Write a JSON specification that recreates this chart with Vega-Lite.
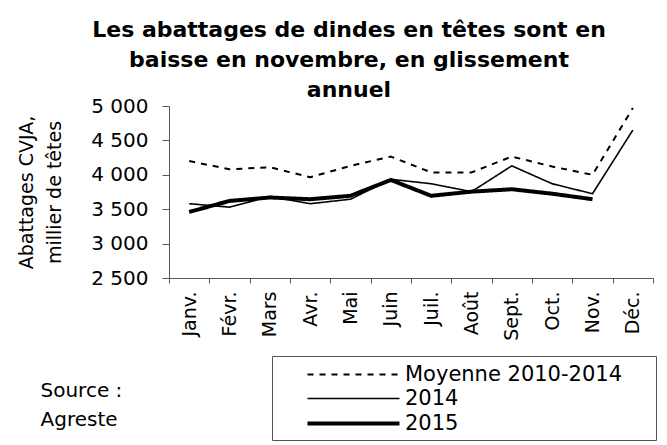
{
  "$schema": "https://vega.github.io/schema/vega-lite/v6.json",
  "autosize": "none",
  "width": 484,
  "height": 172,
  "padding": {"left": 169, "top": 106, "right": 14, "bottom": 167},
  "background": "white",
  "title": {
    "text": ["Les abattages de dindes en têtes sont en", "baisse en novembre, en glissement", "annuel"],
    "anchor": "middle",
    "frame": "group",
    "dx": -62,
    "offset": -6,
    "font": "DejaVu Sans",
    "fontSize": 22,
    "fontWeight": "bold",
    "lineHeight": 30,
    "color": "black"
  },
  "data": {
    "values": [
      {"mois": "Janv.", "serie": "Moyenne 2010-2014", "valeur": 4200},
      {"mois": "Févr.", "serie": "Moyenne 2010-2014", "valeur": 4080},
      {"mois": "Mars", "serie": "Moyenne 2010-2014", "valeur": 4110},
      {"mois": "Avr.", "serie": "Moyenne 2010-2014", "valeur": 3965},
      {"mois": "Mai", "serie": "Moyenne 2010-2014", "valeur": 4130},
      {"mois": "Juin", "serie": "Moyenne 2010-2014", "valeur": 4265},
      {"mois": "Juil.", "serie": "Moyenne 2010-2014", "valeur": 4035},
      {"mois": "Août", "serie": "Moyenne 2010-2014", "valeur": 4035},
      {"mois": "Sept.", "serie": "Moyenne 2010-2014", "valeur": 4265},
      {"mois": "Oct.", "serie": "Moyenne 2010-2014", "valeur": 4120},
      {"mois": "Nov.", "serie": "Moyenne 2010-2014", "valeur": 4000},
      {"mois": "Déc.", "serie": "Moyenne 2010-2014", "valeur": 4970},
      {"mois": "Janv.", "serie": "2014", "valeur": 3580},
      {"mois": "Févr.", "serie": "2014", "valeur": 3530},
      {"mois": "Mars", "serie": "2014", "valeur": 3685},
      {"mois": "Avr.", "serie": "2014", "valeur": 3580},
      {"mois": "Mai", "serie": "2014", "valeur": 3645},
      {"mois": "Juin", "serie": "2014", "valeur": 3935},
      {"mois": "Juil.", "serie": "2014", "valeur": 3870},
      {"mois": "Août", "serie": "2014", "valeur": 3755},
      {"mois": "Sept.", "serie": "2014", "valeur": 4130},
      {"mois": "Oct.", "serie": "2014", "valeur": 3870},
      {"mois": "Nov.", "serie": "2014", "valeur": 3725},
      {"mois": "Déc.", "serie": "2014", "valeur": 4650},
      {"mois": "Janv.", "serie": "2015", "valeur": 3460},
      {"mois": "Févr.", "serie": "2015", "valeur": 3620},
      {"mois": "Mars", "serie": "2015", "valeur": 3670},
      {"mois": "Avr.", "serie": "2015", "valeur": 3645},
      {"mois": "Mai", "serie": "2015", "valeur": 3695},
      {"mois": "Juin", "serie": "2015", "valeur": 3925},
      {"mois": "Juil.", "serie": "2015", "valeur": 3695},
      {"mois": "Août", "serie": "2015", "valeur": 3755},
      {"mois": "Sept.", "serie": "2015", "valeur": 3790},
      {"mois": "Oct.", "serie": "2015", "valeur": 3725},
      {"mois": "Nov.", "serie": "2015", "valeur": 3645}
    ]
  },
  "mark": {"type": "line", "color": "black", "strokeJoin": "round"},
  "encoding": {
    "x": {
      "field": "mois",
      "type": "nominal",
      "sort": ["Janv.", "Févr.", "Mars", "Avr.", "Mai", "Juin", "Juil.", "Août", "Sept.", "Oct.", "Nov.", "Déc."],
      "bandPosition": 0.5,
      "scale": {"type": "band", "paddingInner": 0, "paddingOuter": 0},
      "axis": {
        "title": ["Source :", "Agreste"],
        "titleX": -129,
        "titleY": 102,
        "titleAlign": "left",
        "titleBaseline": "top",
        "titleAngle": 0,
        "titleFont": "DejaVu Sans",
        "titleFontSize": 20,
        "titleFontWeight": "normal",
        "titleLineHeight": 29,
        "titleColor": "black",
        "labelAngle": 270,
        "labelFontSize": 19,
        "labelPadding": 8,
        "tickSize": 5,
        "tickBand": "extent",
        "labelOverlap": false
      }
    },
    "y": {
      "field": "valeur",
      "type": "quantitative",
      "scale": {"domain": [2500, 5000], "nice": false, "zero": false},
      "axis": {
        "title": ["Abattages CVJA,", "millier de têtes"],
        "titleFont": "DejaVu Sans",
        "titleFontSize": 19,
        "titleFontWeight": "normal",
        "titleLineHeight": 28,
        "titleColor": "black",
        "titlePadding": 26,
        "values": [2500, 3000, 3500, 4000, 4500, 5000],
        "labelExpr": "replace(format(datum.value, ','), ',', ' ')",
        "labelFontSize": 20,
        "labelPadding": 14,
        "tickSize": 7,
        "grid": false
      }
    },
    "strokeDash": {
      "field": "serie",
      "type": "nominal",
      "scale": {"domain": ["Moyenne 2010-2014", "2014", "2015"], "range": [[6, 6], [1, 0], [1, 0]]},
      "legend": {
        "title": " ",
        "titleOrient": "right",
        "titlePadding": 28,
        "titleFontSize": 10,
        "orient": "none",
        "legendX": 103,
        "legendY": 250,
        "padding": 6,
        "strokeColor": "#555555",
        "fillColor": "white",
        "symbolType": "M-4,0H4",
        "symbolSize": 529,
        "symbolStrokeColor": "black",
        "symbolOffset": 62,
        "labelOffset": 38,
        "labelFont": "DejaVu Sans",
        "labelFontSize": 21,
        "labelColor": "black",
        "labelLimit": 400,
        "rowPadding": 1
      }
    },
    "strokeWidth": {
      "field": "serie",
      "type": "nominal",
      "scale": {"type": "ordinal", "domain": ["Moyenne 2010-2014", "2014", "2015"], "range": [2, 1.6, 4]}
    }
  },
  "config": {
    "view": {"stroke": null},
    "font": "DejaVu Sans",
    "axis": {
      "domainColor": "#595959",
      "tickColor": "#595959",
      "labelColor": "black",
      "labelFont": "DejaVu Sans"
    }
  }
}
